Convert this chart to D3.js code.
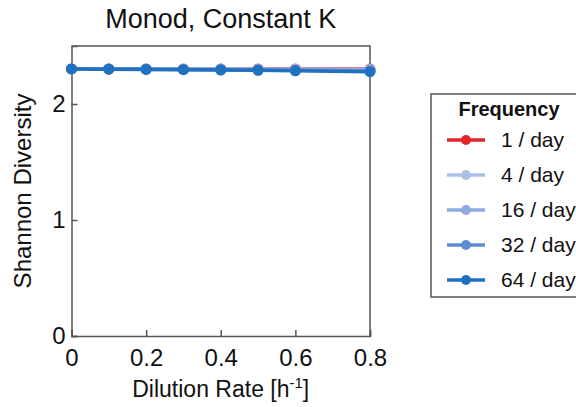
<!DOCTYPE html>
<html>
<head>
<meta charset="utf-8">
<script src="https://cdn.jsdelivr.net/npm/d3@7"></script>
<style>
  body { margin: 0; background: #fff; }
  svg { font-family: "Liberation Sans", Arial, sans-serif; }
</style>
</head>
<body>
<div id="chart"></div>
<script>
// Dilution rates (no point at 0.7)
const dilution = [0, 0.1, 0.2, 0.3, 0.4, 0.5, 0.6, 0.8];
const freqLabels = ["1 / day", "4 / day", "16 / day", "32 / day", "64 / day"];
const freqColors = ["#e3242b", "#aac1e8", "#8eaadf", "#5e8bd2", "#2171c1"];
const diversity = [
    [2.302, 2.302, 2.302, 2.302, 2.302, 2.302, 2.302, 2.301],
    [2.302, 2.302, 2.302, 2.301, 2.301, 2.300, 2.300, 2.298],
    [2.302, 2.302, 2.301, 2.300, 2.299, 2.298, 2.296, 2.293],
    [2.302, 2.301, 2.300, 2.298, 2.296, 2.293, 2.290, 2.285],
    [2.302, 2.300, 2.298, 2.296, 2.293, 2.290, 2.286, 2.279]
];
const xTicks = [0, 0.2, 0.4, 0.6, 0.8];
const yTicks = [0, 1, 2];

const width = 576, height = 407;
const plot = { left: 71.5, right: 370, top: 46, bottom: 336 };
const axisColor = "#555";

const svg = d3.select("#chart").append("svg")
    .attr("width", width)
    .attr("height", height);

const x = d3.scaleLinear().domain([0, 0.8]).range([plot.left, plot.right]);
const y = d3.scaleLinear().domain([0, 2.5]).range([plot.bottom, plot.top]);

// Axes box with inward ticks
svg.append("g")
    .attr("transform", `translate(0,${plot.bottom})`)
    .call(d3.axisBottom(x).tickValues(xTicks).tickFormat(d3.format("")).tickSize(-6).tickPadding(13))
    .call(g => g.select(".domain").attr("stroke", axisColor).attr("stroke-width", 1.5))
    .call(g => g.selectAll(".tick line").attr("stroke", axisColor).attr("stroke-width", 1.5))
    .call(g => g.selectAll(".tick text").attr("font-size", 24).attr("fill", "#111"));

svg.append("g")
    .attr("transform", `translate(${plot.left},0)`)
    .call(d3.axisLeft(y).tickValues(yTicks).tickFormat(d3.format("d")).tickSize(-6).tickPadding(6))
    .call(g => g.select(".domain").attr("stroke", axisColor).attr("stroke-width", 1.5))
    .call(g => g.selectAll(".tick line").attr("stroke", axisColor).attr("stroke-width", 1.5))
    .call(g => g.selectAll(".tick text").attr("font-size", 24).attr("fill", "#111"));

svg.append("path")
    .attr("d", `M${plot.left},${plot.top}H${plot.right}V${plot.bottom}`)
    .attr("fill", "none")
    .attr("stroke", axisColor)
    .attr("stroke-width", 1.5);

// Series lines with markers, lowest frequency drawn first
const line = d3.line().x((d, i) => x(dilution[i])).y(d => y(d));
diversity.forEach((vals, k) => {
    svg.append("path")
        .attr("d", line(vals))
        .attr("fill", "none")
        .attr("stroke", freqColors[k])
        .attr("stroke-width", 3.5);
    svg.selectAll(null)
        .data(vals)
        .join("circle")
        .attr("cx", (d, i) => x(dilution[i]))
        .attr("cy", d => y(d))
        .attr("r", 5.5)
        .attr("fill", freqColors[k]);
});

// Titles
svg.append("text")
    .attr("x", (plot.left + plot.right) / 2)
    .attr("y", 28)
    .attr("text-anchor", "middle")
    .attr("font-size", 27)
    .attr("fill", "#111")
    .text("Monod, Constant K");

const xl = svg.append("text")
    .attr("x", (plot.left + plot.right) / 2)
    .attr("y", 397)
    .attr("text-anchor", "middle")
    .attr("font-size", 23)
    .attr("fill", "#111");
xl.append("tspan").text("Dilution Rate [h");
xl.append("tspan").attr("font-size", 15).attr("dy", -9).text("-1");
xl.append("tspan").attr("dy", 9).text("]");

svg.append("text")
    .attr("transform", `translate(31,${(plot.top + plot.bottom) / 2}) rotate(-90)`)
    .attr("text-anchor", "middle")
    .attr("font-size", 24)
    .attr("fill", "#111")
    .text("Shannon Diversity");

// Legend
const legend = svg.append("g").attr("transform", "translate(431,94)");
legend.append("rect")
    .attr("width", 170)
    .attr("height", 203)
    .attr("fill", "#fff")
    .attr("stroke", axisColor)
    .attr("stroke-width", 1.5);
legend.append("text")
    .attr("x", 78)
    .attr("y", 22)
    .attr("text-anchor", "middle")
    .attr("font-size", 20)
    .attr("font-weight", "bold")
    .attr("fill", "#111")
    .text("Frequency");
freqLabels.forEach((lab, k) => {
    const cy = 46 + k * 35;
    legend.append("line")
        .attr("x1", 16).attr("x2", 54)
        .attr("y1", cy).attr("y2", cy)
        .attr("stroke", freqColors[k])
        .attr("stroke-width", 3.5);
    legend.append("circle")
        .attr("cx", 35).attr("cy", cy).attr("r", 5)
        .attr("fill", freqColors[k]);
    legend.append("text")
        .attr("x", 70)
        .attr("y", cy + 7)
        .attr("font-size", 21)
        .attr("fill", "#111")
        .text(lab);
});
</script>
</body>
</html>
